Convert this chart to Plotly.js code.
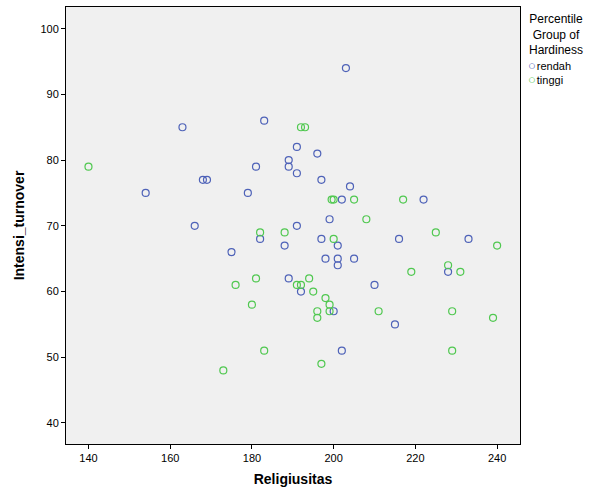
<!DOCTYPE html>
<html><head><meta charset="utf-8">
<script src="https://cdn.plot.ly/plotly-3.0.1.min.js"></script>
<style>body{margin:0;background:#fff}#chart{width:592px;height:491px}</style>
</head><body><div id="chart"></div>
<script>
const rendahX = [163,183,191,189,189,191,181,168,169,154,179,166,182,188,191,175,189,192,203,196,197,204,202,222,199,197,201,216,233,198,201,201,205,228,210,200,215,202];
const rendahY = [85,86,82,80,79,78,79,77,77,75,75,70,68,67,70,66,62,60,94,81,77,76,74,74,71,68,67,68,68,65,65,64,65,63,61,57,55,51];
const tinggiX = [140,192,193,182,188,181,191,192,176,180,183,173,199.5,200,205,217,208,225,200,240,219,228,231,194,195,198,199,196,199,196,211,229,239,229,197];
const tinggiY = [79,85,85,69,69,62,61,61,61,58,51,48,74,74,74,74,71,69,68,67,63,64,63,62,60,59,58,57,57,56,57,57,56,51,49];
const xTicks = [140,160,180,200,220,240];
const yTicks = [40,50,60,70,80,90,100];
const legendTitle = 'Percentile<br>Group of<br>Hardiness';
const groupNames = ['rendah','tinggi'];
const groupColors = ['#4e62b8','#50c850'];

const mk = (c) => ({symbol:'circle-open', size:7, color:c, line:{width:1.2, color:c}});
const data = [
  {x:rendahX, y:rendahY, type:'scatter', mode:'markers', name:groupNames[0], marker:mk(groupColors[0])},
  {x:tinggiX, y:tinggiY, type:'scatter', mode:'markers', name:groupNames[1], marker:mk(groupColors[1])}
];
const px = (p) => (p-66)/454, py = (p) => (444-p)/437;
const itemsText = groupNames.map((n,i) => '<span style="color:'+groupColors[i]+';font-size:13px">○</span>\u200A'+n).join('<br>');
const annotations = [
  {xref:'paper', yref:'paper', x:px(556), y:py(34), xanchor:'center', yanchor:'middle',
    text:legendTitle, showarrow:false, align:'center', font:{size:12}},
  {xref:'paper', yref:'paper', x:px(526), y:py(73), xanchor:'left', yanchor:'middle',
    text:itemsText, showarrow:false, align:'left', font:{size:11}}
];
const layout = {
  width:592, height:491,
  margin:{l:66, r:72, t:7, b:47},
  paper_bgcolor:'#ffffff', plot_bgcolor:'#f0f0f0',
  font:{family:'Liberation Sans, Arial, sans-serif', size:11, color:'#000'},
  showlegend:false,
  annotations:annotations,
  xaxis:{range:[134.5,245.6], tickvals:xTicks, ticks:'outside', ticklen:4, tickcolor:'#000',
    showline:true, linecolor:'#000', linewidth:1, mirror:true, showgrid:false, zeroline:false,
    tickfont:{size:11}, title:{text:'<b>Religiusitas</b>', font:{size:14}, standoff:10}},
  yaxis:{range:[36.8,103.3], tickvals:yTicks, ticks:'outside', ticklen:4, tickcolor:'#000',
    showline:true, linecolor:'#000', linewidth:1, mirror:true, showgrid:false, zeroline:false,
    tickfont:{size:11}, title:{text:'<b>Intensi_turnover</b>', font:{size:14}, standoff:12}}
};
Plotly.newPlot('chart', data, layout, {displayModeBar:false, staticPlot:true});
</script></body></html>
